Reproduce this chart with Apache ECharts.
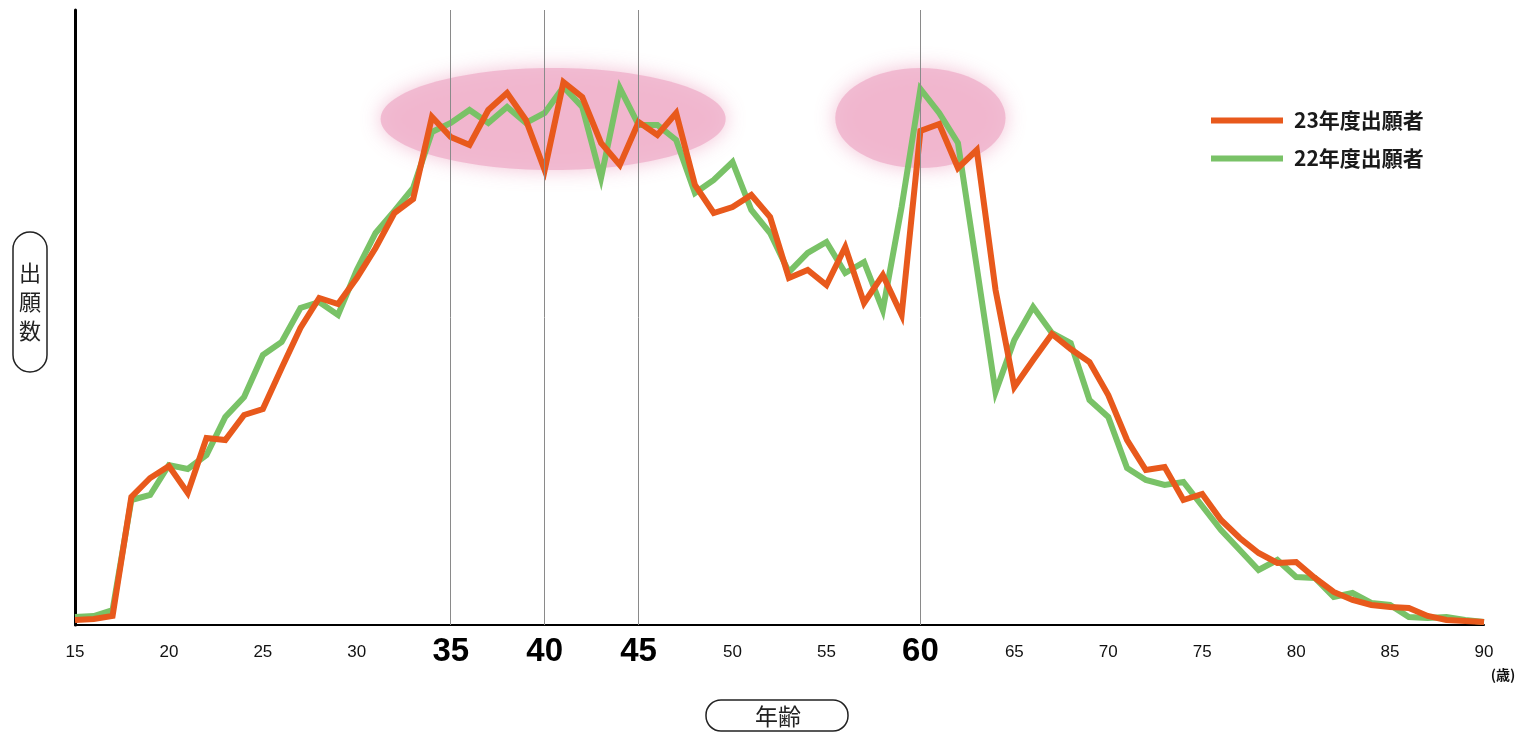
<!DOCTYPE html>
<html>
<head>
<meta charset="utf-8">
<script src="https://cdn.jsdelivr.net/npm/echarts@6/dist/echarts.min.js"></script>
<style>
html,body{margin:0;padding:0;background:#fff;}
#main{width:1527px;height:732px;}
</style>
</head>
<body>
<div id="main"></div>
<script>
const ages = [15,16,17,18,19,20,21,22,23,24,25,26,27,28,29,30,31,32,33,34,35,36,37,38,39,40,41,42,43,44,45,46,47,48,49,50,51,52,53,54,55,56,57,58,59,60,61,62,63,64,65,66,67,68,69,70,71,72,73,74,75,76,77,78,79,80,81,82,83,84,85,86,87,88,89,90];
const applicants23 = [5,6,9,128,147,159,132,187,185,210,216,257,297,327,321,347,377,412,426,508,488,480,515,532,505,455,543,528,482,460,503,490,512,440,412,418,430,408,347,355,340,378,322,350,310,494,501,457,475,335,238,265,291,276,263,230,185,155,158,125,131,105,87,72,62,63,47,33,25,20,18,17,9,5,4,3];
const applicants22 = [8,9,15,125,130,160,156,170,208,228,270,283,317,323,310,355,392,414,437,493,502,515,502,518,502,512,538,518,447,537,500,500,485,432,445,463,415,392,353,372,383,352,363,315,418,536,512,482,358,233,285,318,292,282,225,208,157,145,140,143,119,95,75,55,65,48,47,28,32,22,20,8,7,8,5,3];
const xTicks = [15,20,25,30,35,40,45,50,55,60,65,70,75,80,85,90];
const boldTicks = [35,40,45,60];
const highlightZones = [[31.0,49.9,450,562],[55.2,64.8,452,562]];
const seriesNames = ['23年度出願者','22年度出願者'];

const font = '"Liberation Sans", "Noto Sans CJK JP", sans-serif';
const chart = echarts.init(document.getElementById('main'));
const d23 = ages.map((a,i)=>[a,applicants23[i]]);
const d22 = ages.map((a,i)=>[a,applicants22[i]]);

chart.setOption({
  animation:false,
  backgroundColor:'#fff',
  grid:{left:75,right:43,top:10,bottom:107,containLabel:false},
  legend:{
    orient:'vertical',left:1206,top:105,itemGap:17,
    itemWidth:72,itemHeight:6,icon:'rect',
    textStyle:{fontFamily:'"Noto Sans CJK JP", sans-serif',fontSize:21,fontWeight:'bold',color:'#1a1a1a',padding:[0,0,0,6]},
    data:seriesNames
  },
  xAxis:{
    type:'value',min:15,max:90,interval:5,
    axisLine:{show:true,lineStyle:{color:'#000',width:2}},
    axisTick:{show:false},splitLine:{show:false},
    axisLabel:{
      margin:27,verticalAlign:'middle',
      formatter:v=> boldTicks.includes(v)?'{b|'+v+'}':'{n|'+v+'}',
      rich:{
        n:{fontFamily:font,fontSize:17,color:'#111',verticalAlign:'middle'},
        b:{fontFamily:font,fontSize:33,fontWeight:'bold',color:'#000',verticalAlign:'middle'}
      }
    }
  },
  yAxis:{
    type:'value',min:0,max:615,
    axisLine:{show:true,lineStyle:{color:'#000',width:3}},
    axisTick:{show:false},axisLabel:{show:false},splitLine:{show:false}
  },
  series:[
    {
      name:seriesNames[1],type:'line',data:d22,symbol:'none',z:3,
      lineStyle:{color:'#79C267',width:6,join:'miter'},itemStyle:{color:'#79C267'},
      markLine:{
        silent:true,symbol:['none','none'],label:{show:false},
        lineStyle:{color:'#8a8a8a',width:1,type:'solid'},
        data:boldTicks.map(v=>({xAxis:v}))
      }
    },
    {
      name:seriesNames[0],type:'line',data:d23,symbol:'none',z:4,
      lineStyle:{color:'#E8591C',width:6,join:'miter'},itemStyle:{color:'#E8591C'}
    }
  ]
});

function drawExtras(){
  const els = highlightZones.map(z=>{
    const p1 = chart.convertToPixel({gridIndex:0},[z[0],z[3]]);
    const p2 = chart.convertToPixel({gridIndex:0},[z[1],z[2]]);
    const cx=(p1[0]+p2[0])/2, cy=(p1[1]+p2[1])/2;
    return {
      type:'ellipse',z:-5,silent:true,
      shape:{cx:cx,cy:cy,rx:(p2[0]-p1[0])/2-5,ry:(p2[1]-p1[1])/2-5},
      style:{fill:'rgba(240,180,204,0.85)',shadowBlur:20,shadowColor:'rgba(240,180,204,0.95)'}
    };
  });
  const pEnd = chart.convertToPixel({gridIndex:0},[90,0]);
  els.push(
    {type:'rect',silent:true,shape:{x:13,y:232,width:34,height:140,r:17},style:{fill:'#fff',stroke:'#222',lineWidth:1.5}},
    {type:'text',silent:true,style:{text:'出\n願\n数',x:30,y:302,align:'center',verticalAlign:'middle',fontSize:22,lineHeight:29,fontFamily:'"Noto Sans CJK JP", sans-serif',fill:'#222'}},
    {type:'rect',silent:true,shape:{x:706,y:700,width:142,height:31,r:15},style:{fill:'#fff',stroke:'#222',lineWidth:1.5}},
    {type:'text',silent:true,style:{text:'年齢',x:778,y:716,align:'center',verticalAlign:'middle',fontSize:23,fontFamily:'"Noto Sans CJK JP", sans-serif',fill:'#222'}},
    {type:'text',silent:true,style:{text:'(歳)',x:pEnd[0]+19,y:675,align:'center',verticalAlign:'middle',fontSize:14,fontWeight:'bold',fontFamily:'"Noto Sans CJK JP", sans-serif',fill:'#111'}}
  );
  chart.setOption({graphic:{elements:els}});
}
drawExtras();
</script>
</body>
</html>
